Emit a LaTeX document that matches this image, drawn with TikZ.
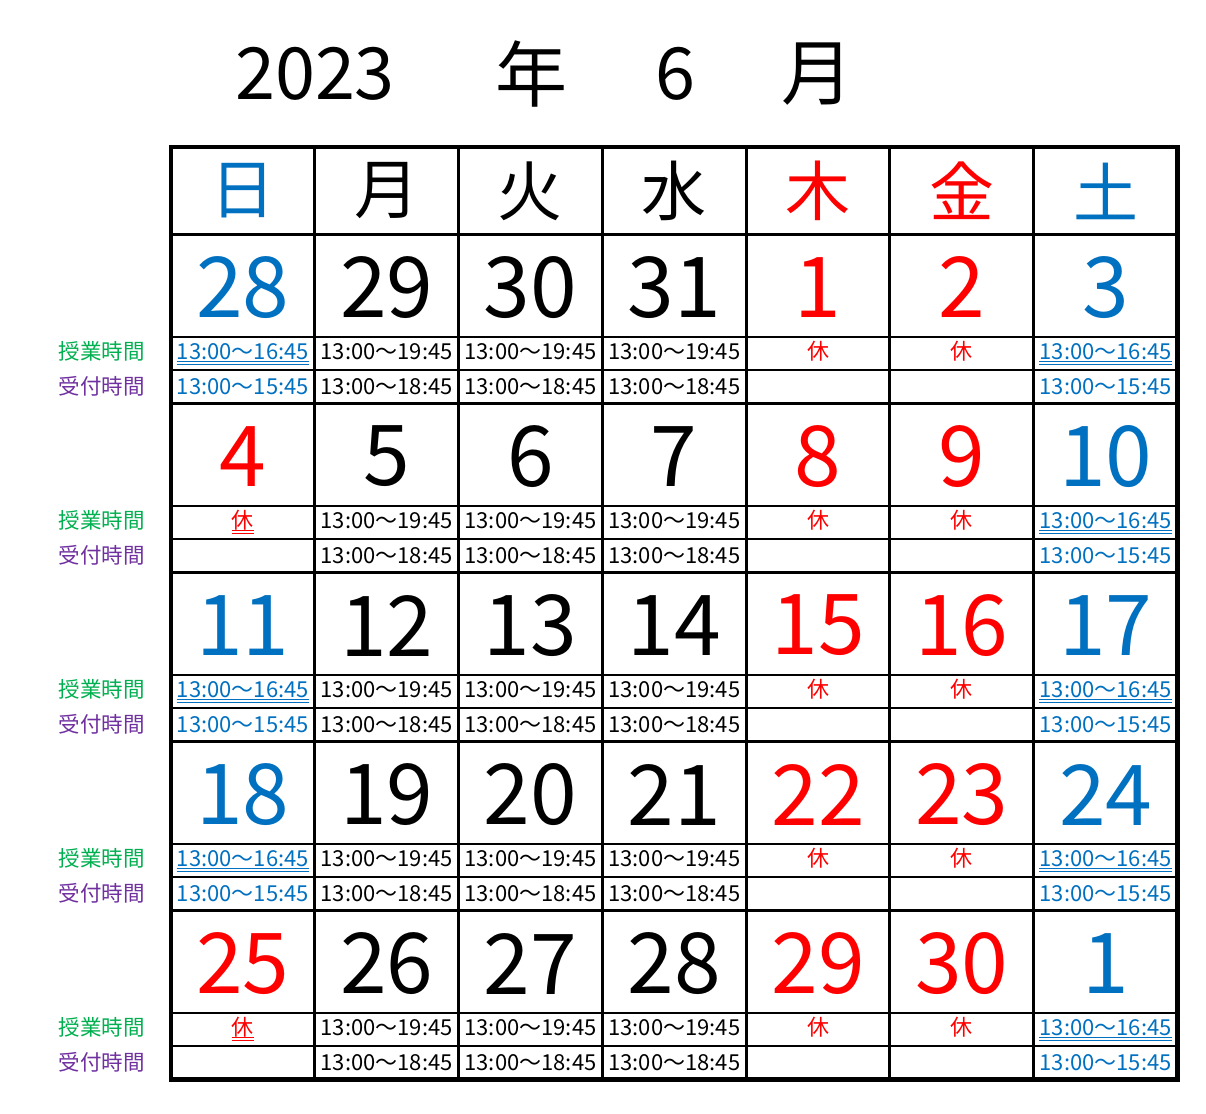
\documentclass[tikz,border=0pt]{standalone}
\usepackage{fontspec}
\setmainfont{Noto Sans CJK JP}
\definecolor{calblue}{HTML}{0070C0}
\definecolor{calred}{HTML}{FF0000}
\definecolor{calgreen}{HTML}{00B050}
\definecolor{calpurple}{HTML}{7030A0}
\tikzset{
  datenum/.style={font=\fontsize{84}{92}\selectfont, inner sep=0pt, anchor=center},
  dayname/.style={font=\fontsize{65}{72}\selectfont, inner sep=0pt, anchor=center},
  timetxt/.style={font=\fontsize{22}{25}\selectfont, inner sep=0pt, anchor=base},
  lbl/.style={font=\fontsize{21.5}{24}\selectfont, inner sep=0pt, anchor=base east},
  titletxt/.style={font=\fontsize{72}{80}\selectfont, inner sep=0pt, anchor=center},
  thinline/.style={line width=2pt},
  midline/.style={line width=3pt},
  outerline/.style={line width=4.5pt},
  ulline/.style={line width=1.4pt}
}
\newcommand\dul[2]{%
  \draw[ulline,#2] ([yshift=-1.8pt]#1.base west) -- ([yshift=-1.8pt]#1.base east);
  \draw[ulline,#2] ([yshift=-4.8pt]#1.base west) -- ([yshift=-4.8pt]#1.base east);}
% #1 week index, #2 sunday open (1) or closed (0), #3 list c/n/col
\newcommand\calweek[3]{%
  \pgfmathsetmacro\T{234.5+169*#1}
  \foreach \c/\n/\col in {#3} {
    \node[datenum,text=\col] (d#1\c) at ({171+143.786*(\c+0.5)},{\T+53}) {\n};
  }
  \node[lbl,text=calgreen] (g#1) at (145,{\T+125}) {授業時間};
  \node[lbl,text=calpurple] (p#1) at (145,{\T+159.5}) {受付時間};
  \foreach \c in {1,2,3} {
    \node[timetxt] (a#1\c) at ({171+143.786*(\c+0.5)},{\T+125}) {13:00～19:45};
    \node[timetxt] (b#1\c) at ({171+143.786*(\c+0.5)},{\T+159.5}) {13:00～18:45};
  }
  \foreach \c in {4,5} {
    \node[timetxt,text=calred] (a#1\c) at ({171+143.786*(\c+0.5)},{\T+125}) {休};
  }
  \node[timetxt,text=calblue] (a#16) at ({171+143.786*6.5},{\T+125}) {13:00～16:45};
  \dul{a#16}{calblue}
  \node[timetxt,text=calblue] (b#16) at ({171+143.786*6.5},{\T+159.5}) {13:00～15:45};
  \ifnum#2=1
    \node[timetxt,text=calblue] (a#10) at ({171+143.786*0.5},{\T+125}) {13:00～16:45};
    \dul{a#10}{calblue}
    \node[timetxt,text=calblue] (b#10) at ({171+143.786*0.5},{\T+159.5}) {13:00～15:45};
  \else
    \node[timetxt,text=calred] (a#10) at ({171+143.786*0.5},{\T+125}) {休};
    \dul{a#10}{calred}
  \fi
  \draw[thinline] (171,{\T+102.5}) -- (1177.5,{\T+102.5});
  \draw[thinline] (171,{\T+135.75}) -- (1177.5,{\T+135.75});
}
\begin{document}
\begin{tikzpicture}[x=1pt,y=-1pt]
\useasboundingbox (0,0) rectangle (1206,1113);
\fill[white] (0,0) rectangle (1206,1113);
% title
\node[titletxt] (ty) at (315,74) {2023};
\node[titletxt] (tn) at (531,74) {年};
\node[titletxt] (tm) at (675.5,74) {6};
\node[titletxt] (tg) at (817,74) {月};
% header
\foreach \c/\d/\col in {0/日/calblue,1/月/black,2/火/black,3/水/black,4/木/calred,5/金/calred,6/土/calblue} {
  \node[dayname,text=\col] (h\c) at ({171+143.786*(\c+0.5)},191) {\d};
}
\calweek{0}{1}{0/28/calblue,1/29/black,2/30/black,3/31/black,4/1/calred,5/2/calred,6/3/calblue}
\calweek{1}{0}{0/4/calred,1/5/black,2/6/black,3/7/black,4/8/calred,5/9/calred,6/10/calblue}
\calweek{2}{1}{0/11/calblue,1/12/black,2/13/black,3/14/black,4/15/calred,5/16/calred,6/17/calblue}
\calweek{3}{1}{0/18/calblue,1/19/black,2/20/black,3/21/black,4/22/calred,5/23/calred,6/24/calblue}
\calweek{4}{0}{0/25/calred,1/26/black,2/27/black,3/28/black,4/29/calred,5/30/calred,6/1/calblue}
% grid
\foreach \w in {0,...,4} {
  \draw[midline] (171,{234.5+169*\w}) -- (1177.5,{234.5+169*\w});
}
\foreach \c in {1,...,6} {
  \draw[midline] ({171+143.786*\c},147) -- ({171+143.786*\c},1079.5);
}
\draw[outerline] (171,147) rectangle (1177.5,1079.5);
\end{tikzpicture}
\end{document}
